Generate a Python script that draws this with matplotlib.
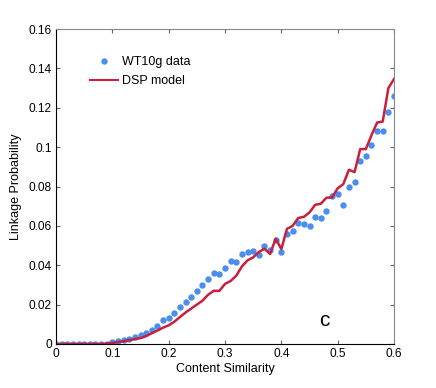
import numpy as np
import matplotlib
matplotlib.use('Agg')
import matplotlib.pyplot as plt

plt.rcParams['font.family'] = ['Liberation Sans', 'DejaVu Sans']

# content similarity bins
sim = [i / 100 for i in range(61)]

# WT10g data (dots)
data_prob = [0, 0, 0, 0, 0, 0, 0, 0, 0, 0.0002,
             0.001, 0.0014, 0.002, 0.0027, 0.0035, 0.0044, 0.0057, 0.0073, 0.009, 0.012,
             0.013, 0.016, 0.0186, 0.0215, 0.024, 0.027, 0.030, 0.033, 0.036, 0.0358,
             0.0385, 0.0423, 0.0418, 0.0457, 0.0469, 0.0474, 0.0454, 0.050, 0.0477, 0.053,
             0.0465, 0.0558, 0.0572, 0.0617, 0.0609, 0.060, 0.0646, 0.064, 0.0678, 0.075,
             0.0763, 0.0705, 0.080, 0.0825, 0.0927, 0.0954, 0.1013, 0.1084, 0.1084, 0.118,
             0.126]

# DSP model (line)
model_prob = [0, 0, 0, 0, 0, 0, 0, 0, 0, 0.0002,
              0.0005, 0.001, 0.0014, 0.002, 0.0025, 0.003, 0.004, 0.0055, 0.0068, 0.0083,
              0.0095, 0.0113, 0.0137, 0.016, 0.018, 0.020, 0.022, 0.025, 0.027, 0.027,
              0.0305, 0.032, 0.0347, 0.0394, 0.0425, 0.044, 0.0467, 0.0484, 0.0457, 0.0535,
              0.0482, 0.0585, 0.060, 0.064, 0.0646, 0.0668, 0.0707, 0.0712, 0.0743, 0.0744,
              0.0791, 0.0812, 0.0885, 0.0873, 0.099, 0.099, 0.106, 0.1125, 0.113, 0.130,
              0.1346]

fig = plt.figure(figsize=(4.36, 3.88), dpi=100)
ax = fig.add_axes([56 / 436, 1 - 344 / 388, 338 / 436, 315 / 388])

ax.plot(sim, data_prob, 'o', color='#4a8ff0', markersize=4.6, markeredgewidth=0,
        label='WT10g data')
ax.plot(sim, model_prob, '-', color='#c8203c', linewidth=1.8, label='DSP model')

ax.set_xlim(0, 0.6)
ax.set_ylim(0, 0.16)
ax.set_xticks([0, 0.1, 0.2, 0.3, 0.4, 0.5, 0.6])
ax.set_xticklabels(['0', '0.1', '0.2', '0.3', '0.4', '0.5', '0.6'])
ax.set_yticks([0, 0.02, 0.04, 0.06, 0.08, 0.1, 0.12, 0.14, 0.16])
ax.set_yticklabels(['0', '0.02', '0.04', '0.06', '0.08', '0.1', '0.12', '0.14', '0.16'])
ax.tick_params(direction='in', top=True, right=True, labelsize=8.6, length=3,
               pad=3, color='#666666')
for s in ['top', 'right']:
    ax.spines[s].set_color('#888888')
for s in ['left', 'bottom']:
    ax.spines[s].set_color('black')

ax.set_xlabel('Content Similarity', fontsize=9, labelpad=2)
ax.set_ylabel('Linkage Probability', fontsize=9, labelpad=5)

leg = ax.legend(loc='upper left', bbox_to_anchor=(0.085, 0.93), frameon=False, fontsize=9,
                handlelength=2.3, handletextpad=0.3, borderaxespad=0, labelspacing=0.55)
leg.get_lines()[1].set_linewidth(1.5)

ax.text(0.476, 0.012, 'c', fontsize=15, ha='center', va='center')

fig.savefig('out.png', dpi=100)
